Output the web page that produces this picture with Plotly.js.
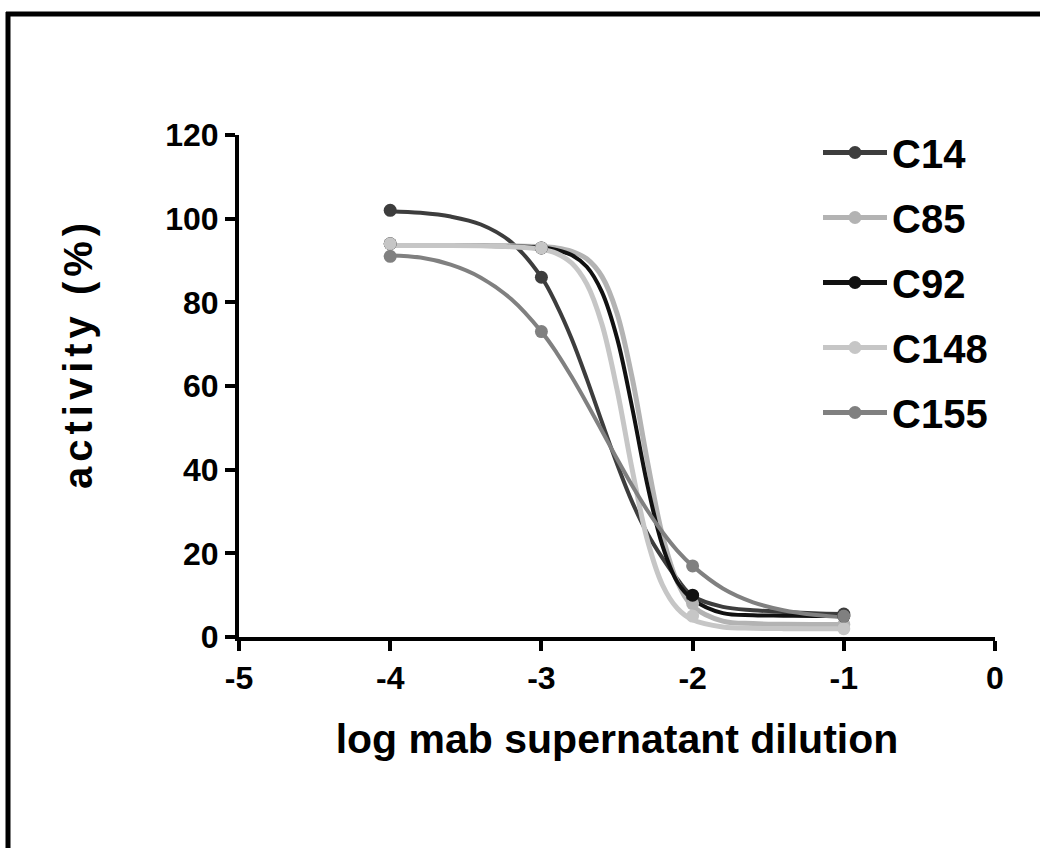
<!DOCTYPE html>
<html>
<head>
<meta charset="utf-8">
<script src="https://cdn.plot.ly/plotly-3.0.1.min.js"></script>
<style>
  html, body { margin: 0; padding: 0; background: #ffffff; }
  #chart { width: 1040px; height: 848px; }
  .annotation-text-g text { letter-spacing: 5px; }
</style>
</head>
<body>
<div id="chart"></div>
<script>
// ---- data ----
var seriesNames = ["C14", "C85", "C92", "C148", "C155"];
var seriesColors = ["#3d3d3d", "#b3b3b3", "#111111", "#c6c6c6", "#808080"];

// measured points (log dilution)
var xPoints = [-4, -3, -2, -1];
var ptsC14  = [102, 86, 9.6, 5.5];
var ptsC85  = [94, 93, 8, 3];
var ptsC92  = [94, 93, 10, 5];
var ptsC148 = [94, 93, 5, 2];
var ptsC155 = [91, 73, 17, 5];

// fitted curves
var xCurve = [-4, -3.8, -3.6, -3.4, -3.2, -3, -2.9, -2.8, -2.7, -2.6, -2.5, -2.4, -2.3, -2.2, -2.1, -2, -1.8, -1.6, -1.4, -1.2, -1];
var curveC14  = [101.8, 101.4, 100.5, 98.6, 94.4, 86.0, 79.4, 71.3, 61.7, 51.4, 41.4, 32.3, 24.8, 18.9, 13.8, 9.8, 7.2, 6.4, 6.0, 5.7, 5.5];
var curveC85  = [93.6, 93.6, 93.6, 93.6, 93.5, 93.3, 93.0, 92.2, 90.4, 86.2, 77.4, 62.0, 42.2, 24.4, 13.1, 7.4, 3.8, 3.2, 3.05, 3.0, 3.0];
var curveC92  = [93.6, 93.6, 93.6, 93.5, 93.4, 93.1, 92.5, 91.3, 88.5, 82.5, 71.5, 54.9, 36.5, 21.9, 13.1, 9.0, 5.7, 5.2, 5.1, 5.0, 5.0];
var curveC148 = [93.6, 93.6, 93.6, 93.5, 93.3, 92.7, 91.7, 89.4, 84.4, 74.8, 59.2, 40.1, 23.3, 12.5, 6.8, 4.1, 2.4, 2.1, 2.0, 2.0, 2.0];
var curveC155 = [91.2, 90.7, 89.0, 85.9, 80.8, 73.0, 68.0, 62.2, 55.9, 49.3, 42.6, 36.2, 30.3, 25.1, 20.6, 17.0, 11.6, 8.3, 6.4, 5.3, 4.7];

var xTickVals = [-5, -4, -3, -2, -1, 0];
var yTickVals = [0, 20, 40, 60, 80, 100, 120];

var xTitle = "log mab supernatant dilution";
var yTitle = "activity (%)";

// ---- build traces ----
var allPts = [ptsC14, ptsC85, ptsC92, ptsC148, ptsC155];
var allCurves = [curveC14, curveC85, curveC92, curveC148, curveC155];
var lineWidths = [4, 5, 4, 5, 4];

function withGaps(arr) {
  var out = [];
  for (var i = 0; i < arr.length; i++) {
    if (i > 0) out.push(null);
    out.push(arr[i]);
  }
  return out;
}

var traces = [];
for (var i = 0; i < seriesNames.length; i++) {
  traces.push({
    type: "scatter", mode: "lines",
    x: xCurve, y: allCurves[i],
    line: { color: seriesColors[i], width: lineWidths[i], shape: "spline", smoothing: 1 },
    showlegend: false, hoverinfo: "skip", legendgroup: "g" + i
  });
}
for (var j = 0; j < seriesNames.length; j++) {
  traces.push({
    type: "scatter", mode: "lines+markers",
    name: seriesNames[j],
    x: withGaps(xPoints), y: withGaps(allPts[j]),
    connectgaps: false,
    line: { color: seriesColors[j], width: 5 },
    marker: { color: seriesColors[j], size: 13, symbol: "circle" },
    legendgroup: "g" + j
  });
}

var ML = 239, MR = 45, MT = 135, MB = 211;
var W = 1040, H = 848;
var pw = W - ML - MR, ph = H - MT - MB;
function px2paperX(px) { return (px - ML) / pw; }
function px2paperY(py) { return (H - MB - py) / ph; }

var fontFam = "Liberation Sans, Arial, Helvetica, sans-serif";

var layout = {
  width: W, height: H,
  margin: { l: ML, r: MR, t: MT, b: MB, pad: 0 },
  paper_bgcolor: "#ffffff", plot_bgcolor: "#ffffff",
  showlegend: true,
  legend: {
    x: px2paperX(818), y: px2paperY(120), xanchor: "left", yanchor: "top",
    font: { family: fontFam, size: 40, color: "#000000", weight: "bold" },
    bgcolor: "rgba(0,0,0,0)", borderwidth: 0,
    tracegroupgap: 10, itemwidth: 64
  },
  xaxis: {
    range: [-5, 0], tickvals: xTickVals, ticktext: xTickVals.map(String),
    showgrid: false, zeroline: false,
    showline: true, linecolor: "#000000", linewidth: 4,
    ticks: "outside", ticklen: 10, tickwidth: 4, tickcolor: "#000000",
    tickfont: { family: fontFam, size: 32, color: "#000000", weight: "bold" },
    title: { text: xTitle, standoff: 30, font: { family: fontFam, size: 41, color: "#000000", weight: "bold" } }
  },
  yaxis: {
    range: [0, 120], tickvals: yTickVals, ticktext: yTickVals.map(String),
    showgrid: false, zeroline: false,
    showline: true, linecolor: "#000000", linewidth: 4,
    ticks: "outside", ticklen: 10, tickwidth: 4, tickcolor: "#000000",
    tickfont: { family: fontFam, size: 32, color: "#000000", weight: "bold" }
  },
  annotations: [
    { text: yTitle, xref: "paper", yref: "paper",
      x: px2paperX(78), y: px2paperY(354), xanchor: "center", yanchor: "middle",
      textangle: -90, showarrow: false,
      font: { family: fontFam, size: 40, color: "#000000", weight: "bold" } }
  ],
  shapes: [
    { type: "line", xref: "paper", yref: "paper",
      x0: px2paperX(8), x1: px2paperX(8), y0: px2paperY(850), y1: px2paperY(12),
      line: { color: "#000000", width: 5 } },
    { type: "line", xref: "paper", yref: "paper",
      x0: px2paperX(6), x1: px2paperX(1045), y0: px2paperY(14), y1: px2paperY(14),
      line: { color: "#000000", width: 5 } }
  ]
};

Plotly.newPlot("chart", traces, layout, { displayModeBar: false, responsive: false, staticPlot: true });
</script>
</body>
</html>
